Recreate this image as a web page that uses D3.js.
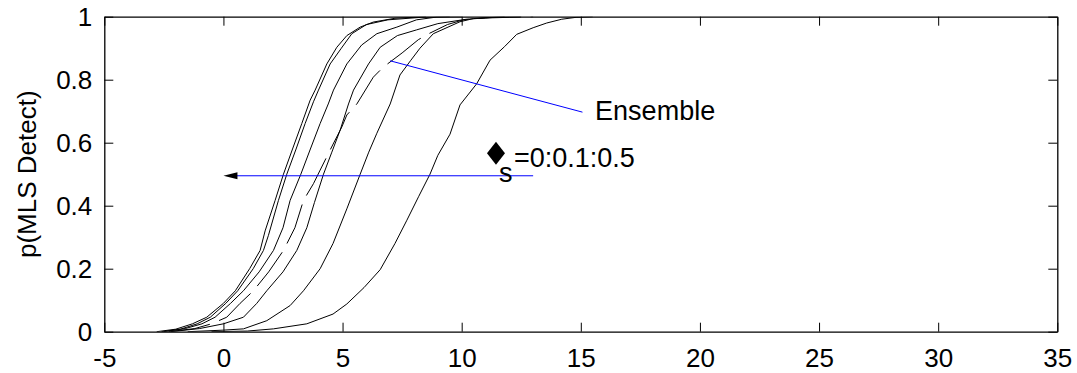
<!DOCTYPE html>
<html>
<head>
<meta charset="utf-8">
<script src="https://cdn.jsdelivr.net/npm/d3@7"></script>
<style>
    body { margin: 0; background: #fff; }
    svg { display: block; }
    .axis text { font-family: 'Liberation Sans', Arial, sans-serif; font-size: 26px; fill: #000; }
    .axis path, .axis line { stroke: #000; }
    .note { font-family: 'Liberation Sans', Arial, sans-serif; font-size: 27px; fill: #000; }
</style>
</head>
<body>
<div id="chart"></div>
<script>
// x ticks and y ticks
const xTicks = [-5, 0, 5, 10, 15, 20, 25, 30, 35];
const yTicks = [0, 0.2, 0.4, 0.6, 0.8, 1];

// Detection curves, [snr, p] pairs (sigma = 0:0.1:0.5)
const sigma00 = [[-2.8, 0], [-2.0, 0.008], [-1.3, 0.025], [-0.7, 0.046], [0.0, 0.09], [0.5, 0.13], [1.1, 0.2],
    [1.54, 0.258], [1.75, 0.32], [2.17, 0.417], [2.52, 0.5], [2.9, 0.58], [3.29, 0.661], [3.64, 0.735],
    [3.85, 0.767], [4.34, 0.85], [4.76, 0.903], [5.18, 0.94], [5.74, 0.967], [6.29, 0.983], [7.2, 0.995], [8.5, 1]];
const sigma01 = [[-2.6, 0], [-1.8, 0.008], [-1.1, 0.025], [-0.55, 0.046], [0.1, 0.09], [0.6, 0.13], [1.25, 0.2],
    [1.68, 0.258], [1.89, 0.306], [2.31, 0.417], [2.66, 0.5], [3.05, 0.58], [3.43, 0.661], [3.78, 0.73],
    [3.99, 0.767], [4.48, 0.85], [4.95, 0.9], [5.39, 0.946], [6.0, 0.975], [6.9, 0.99], [8.3, 0.998], [9.5, 1]];
const sigma02 = [[-2.5, 0], [-1.6, 0.01], [-0.9, 0.025], [-0.35, 0.046], [0.3, 0.09], [0.84, 0.13], [1.5, 0.19],
    [2.1, 0.258], [2.5, 0.33], [2.8, 0.417], [3.25, 0.5], [3.65, 0.58], [4.06, 0.661], [4.4, 0.723],
    [4.62, 0.767], [5.18, 0.85], [5.8, 0.91], [6.44, 0.946], [7.28, 0.967], [8.1, 0.99], [8.96, 0.999], [10, 1]];
const sigma03 = [[-2.2, 0], [-1.0, 0.01], [0.0, 0.025], [0.84, 0.046], [1.4, 0.09], [1.82, 0.13], [2.5, 0.19],
    [3.08, 0.258], [3.5, 0.33], [3.82, 0.41], [4.2, 0.5], [4.55, 0.57], [4.9, 0.64], [5.25, 0.723],
    [5.46, 0.767], [6.09, 0.85], [6.58, 0.903], [7.3, 0.94], [8.1, 0.958], [9.0, 0.978], [10.2, 0.992], [11.8, 1]];
const sigma04 = [[-1.5, 0], [0.0, 0.005], [0.84, 0.009], [1.82, 0.035], [2.8, 0.083], [3.36, 0.13], [4.06, 0.2],
    [4.6, 0.28], [5.18, 0.39], [5.74, 0.5], [6.1, 0.57], [6.44, 0.63], [7.0, 0.723], [7.41, 0.815],
    [7.85, 0.86], [8.25, 0.9], [8.81, 0.946], [9.93, 0.984], [10.49, 0.994], [11.5, 0.999], [12.5, 1]];
const sigma05 = [[-0.5, 0], [1.0, 0.002], [2.1, 0.009], [3.5, 0.025], [4.6, 0.056], [5.18, 0.088], [5.9, 0.14],
    [6.58, 0.197], [7.2, 0.28], [7.7, 0.354], [8.2, 0.43], [8.67, 0.5], [9.0, 0.56], [9.51, 0.627],
    [9.93, 0.72], [10.63, 0.787], [11.19, 0.862], [11.8, 0.905], [12.31, 0.944], [13.0, 0.965],
    [13.57, 0.98], [14.2, 0.992], [14.8, 0.998], [15.5, 1]];
// Ensemble curve (dashed)
const ensemble = [[-2.3, 0], [-1.2, 0.01], [-0.5, 0.025], [0.14, 0.046], [0.7, 0.09], [1.26, 0.13], [1.9, 0.19],
    [2.52, 0.258], [3.0, 0.33], [3.36, 0.417], [3.78, 0.47], [4.06, 0.513], [4.5, 0.58], [4.97, 0.65],
    [5.18, 0.688], [5.6, 0.723], [6.29, 0.808], [6.71, 0.84], [7.5, 0.885], [8.18, 0.927], [8.67, 0.948],
    [9.4, 0.975], [10.07, 0.99], [11.0, 0.996], [12.0, 0.998], [13, 1]];

const sigmaCurves = [sigma00, sigma01, sigma02, sigma03, sigma04, sigma05];

// Annotations (data coords)
const ensembleNote = { text: 'Ensemble', x: 15.6, y: 0.672, from: [15.07, 0.697], to: [7.0, 0.86] };
const sigmaNote = { text: '=0:0.1:0.5', sub: 's', x: 11.44, y: 0.5235, from: [13.0, 0.495], to: [0.0, 0.495] };

const width = 1077, height = 373;
const margin = { top: 16.7, right: 19.7, bottom: 41.3, left: 104.3 };

function drawChart() {
    const svg = d3.select('#chart').append('svg')
        .attr('width', width)
        .attr('height', height);

    const x = d3.scaleLinear().domain([-5, 35]).range([margin.left, width - margin.right]);
    const y = d3.scaleLinear().domain([0, 1]).range([height - margin.bottom, margin.top]);

    svg.append('defs').append('clipPath').attr('id', 'plot-clip')
        .append('rect')
        .attr('x', margin.left).attr('y', margin.top)
        .attr('width', x(35) - x(-5)).attr('height', y(0) - y(1));

    // axes, ticks point inward on all four sides
    svg.append('g').attr('class', 'axis x-bottom')
        .attr('transform', `translate(0,${y(0)})`)
        .call(d3.axisBottom(x).tickValues(xTicks).tickSizeInner(-9).tickSizeOuter(0).tickPadding(17).tickFormat(d => String(d)));
    svg.append('g').attr('class', 'axis')
        .attr('transform', `translate(0,${y(1)})`)
        .call(d3.axisTop(x).tickValues(xTicks).tickSizeInner(-9).tickSizeOuter(0).tickFormat(''));
    svg.append('g').attr('class', 'axis y-left')
        .attr('transform', `translate(${x(-5)},0)`)
        .call(d3.axisLeft(y).tickValues(yTicks).tickSizeInner(-9).tickSizeOuter(0).tickPadding(12).tickFormat(d => String(d)));
    svg.append('g').attr('class', 'axis')
        .attr('transform', `translate(${x(35)},0)`)
        .call(d3.axisRight(y).tickValues(yTicks).tickSizeInner(-9).tickSizeOuter(0).tickFormat(''));

    svg.selectAll('.axis path.domain').attr('stroke-width', 1.3);
    svg.selectAll('.y-left text').attr('dy', '0.35em');

    // y axis label
    svg.append('text')
        .attr('class', 'note')
        .attr('transform', `translate(36,${(y(0) + y(1)) / 2}) rotate(-90)`)
        .attr('text-anchor', 'middle')
        .style('font-size', '26px')
        .text('p(MLS Detect)');

    const line = d3.line().x(d => x(d[0])).y(d => y(d[1]));
    const curves = svg.append('g').attr('clip-path', 'url(#plot-clip)');

    curves.selectAll('.sigma-curve')
        .data(sigmaCurves)
        .enter()
        .append('path')
        .attr('class', 'sigma-curve')
        .attr('d', line)
        .attr('fill', 'none')
        .attr('stroke', '#000')
        .attr('stroke-width', 1);

    curves.append('path')
        .datum(ensemble)
        .attr('d', line)
        .attr('fill', 'none')
        .attr('stroke', '#000')
        .attr('stroke-width', 1)
        .attr('stroke-dasharray', '42,10');

    // Ensemble pointer
    svg.append('line')
        .attr('x1', x(ensembleNote.from[0])).attr('y1', y(ensembleNote.from[1]))
        .attr('x2', x(ensembleNote.to[0])).attr('y2', y(ensembleNote.to[1]))
        .attr('stroke', '#0000ff').attr('stroke-width', 1);
    svg.append('text')
        .attr('class', 'note')
        .attr('x', x(ensembleNote.x)).attr('y', y(ensembleNote.y))
        .text(ensembleNote.text);

    // sigma arrow
    const ax0 = x(sigmaNote.from[0]), ax1 = x(sigmaNote.to[0]), ay = y(sigmaNote.to[1]);
    svg.append('line')
        .attr('x1', ax0).attr('y1', ay).attr('x2', ax1 + 12).attr('y2', ay)
        .attr('stroke', '#0000ff').attr('stroke-width', 1);
    svg.append('path')
        .attr('d', `M${ax1},${ay} L${ax1 + 14},${ay - 3.5} L${ax1 + 14},${ay + 3.5} Z`)
        .attr('fill', '#000');

    // sigma label: diamond glyph, subscript s, then the range
    const tx = x(sigmaNote.x), ty = y(sigmaNote.y);
    svg.append('path')
        .attr('d', `M${tx},${ty - 25} L${tx + 9},${ty - 13.5} L${tx},${ty - 2} L${tx - 9},${ty - 13.5} Z`)
        .attr('fill', '#000');
    svg.append('text')
        .attr('class', 'note')
        .attr('x', tx + 3).attr('y', ty + 15)
        .text(sigmaNote.sub);
    svg.append('text')
        .attr('class', 'note')
        .attr('x', tx + 18).attr('y', ty)
        .text(sigmaNote.text);
}

document.addEventListener('DOMContentLoaded', drawChart);
</script>
</body>
</html>
